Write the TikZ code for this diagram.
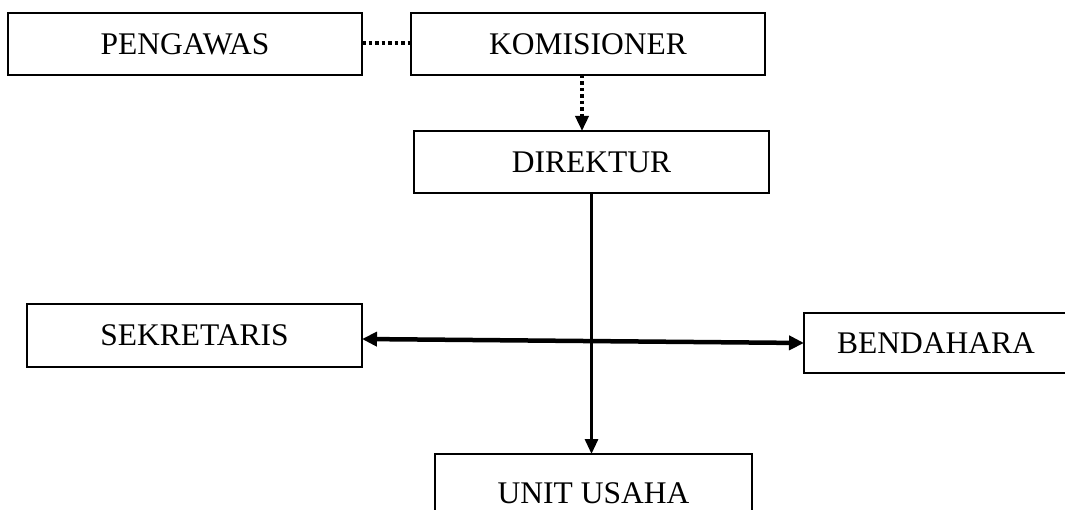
\documentclass[tikz,border=0pt]{standalone}
\usepackage{fontspec}
\setmainfont{Liberation Serif}
\usetikzlibrary{arrows.meta}
\begin{document}
\begin{tikzpicture}[x=1pt,y=-1pt,
  box/.style={draw=black,line width=2.5pt,inner sep=0pt,outer sep=0pt,
    font=\fontsize{31.5}{36}\selectfont},
  dotline/.style={line width=3.5pt,dash pattern=on 3.5pt off 3pt},
  tip/.style={-{Triangle[length=15pt,width=13pt]}},
  solidline/.style={line width=3pt}]
\useasboundingbox (0,0) rectangle (1065,510);
\fill[white] (0,0) rectangle (1065,510);
\node[box,minimum width=354pt,minimum height=62pt] (peng) at (185,44) {PENGAWAS};
\node[box,minimum width=354pt,minimum height=62pt] (kom) at (588,44) {KOMISIONER};
\node[box,minimum width=355pt,minimum height=62pt] (dir) at (591.5,162) {DIREKTUR};
\node[box,minimum width=335pt,minimum height=63pt] (sek) at (194.5,335.5) {SEKRETARIS};
\node[box,minimum width=264pt,minimum height=60pt] (ben) at (936,343) {BENDAHARA};
\node[box,minimum width=317pt,minimum height=78pt] (unit) at (593.5,493) {UNIT USAHA};
\draw[dotline] ([yshift=1pt]peng.east) -- ([yshift=1pt]kom.west);
\draw[dotline,tip] ([xshift=-6pt]kom.south) -- ([xshift=-9.5pt]dir.north);
\draw[solidline,tip] (dir.south) -- (dir.south |- unit.north);
\draw[line width=4.5pt,{Triangle[length=15pt,width=14pt]}-{Triangle[length=15pt,width=14pt]}]
  ([yshift=-3.5pt]sek.east) -- (ben.west);
\end{tikzpicture}
\end{document}
